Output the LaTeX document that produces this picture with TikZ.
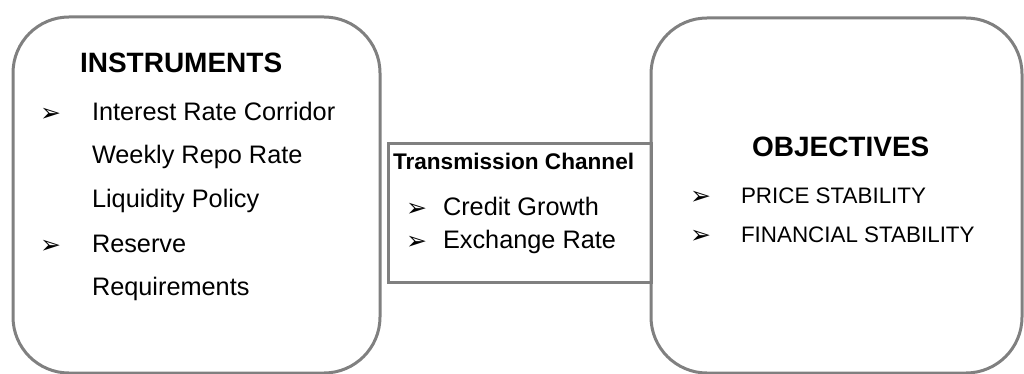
\documentclass[tikz,border=0pt]{standalone}
\usepackage{fontspec}
\setmainfont{Liberation Sans}
\newfontfamily\bulletfont{DejaVu Sans}
\definecolor{boxgray}{RGB}{128,128,128}
\tikzset{
  roundbox/.style={draw=boxgray, line width=3pt, rounded corners=56pt},
  chanbox/.style={draw=boxgray, line width=3pt},
  txt/.style={inner sep=0pt, outer sep=0pt, anchor=base west},
  headbig/.style={txt, font=\fontsize{28}{30}\selectfont\bfseries},
  headmid/.style={txt, font=\fontsize{22.6}{25}\selectfont\bfseries},
  itembig/.style={txt, font=\fontsize{25.3}{28}\selectfont},
  itemsmall/.style={txt, font=\fontsize{22.4}{26}\selectfont},
  bul/.style={txt, font=\bulletfont\fontsize{25}{28}\selectfont}
}
\begin{document}
\begin{tikzpicture}[x=1pt,y=-1pt]
\useasboundingbox (0,0) rectangle (1024,374);
\begin{scope}
\clip (0,0) rectangle (1024,374);
% boxes
\draw[roundbox] (13,17) rectangle (380,373);
\draw[roundbox] (651,18) rectangle (1022,373);
\node[chanbox, minimum width=263pt, minimum height=139pt, anchor=north west, inner sep=0pt] (chan) at (387,142) {};
\end{scope}
% left texts
\node[headbig] (inst) at (80,73) {INSTRUMENTS};
\node[bul] (b1) at (40,122) {➢};
\node[itembig] (i1) at (92,121) {Interest Rate Corridor};
\node[itembig] (i2) at (92,164) {Weekly Repo Rate};
\node[itembig] (i3) at (92,207) {Liquidity Policy};
\node[bul] (b2) at (40,253) {➢};
\node[itembig] (i4) at (92,252) {Reserve};
\node[itembig] (i5) at (92,295) {Requirements};
% middle texts
\node[headmid] (trans) at (393,170) {Transmission Channel};
\node[bul] (b3) at (406,216) {➢};
\node[itembig] (c1) at (443,215) {Credit Growth};
\node[bul] (b4) at (406,249) {➢};
\node[itembig] (c2) at (443,248) {Exchange Rate};
% right texts
\node[headbig] (obj) at (752,157) {OBJECTIVES};
\node[bul] (b5) at (690,204) {➢};
\node[itemsmall] (o1) at (741,203) {PRICE STABILITY};
\node[bul] (b6) at (690,243) {➢};
\node[itemsmall] (o2) at (741,242) {FINANCIAL STABILITY};
\end{tikzpicture}
\end{document}
